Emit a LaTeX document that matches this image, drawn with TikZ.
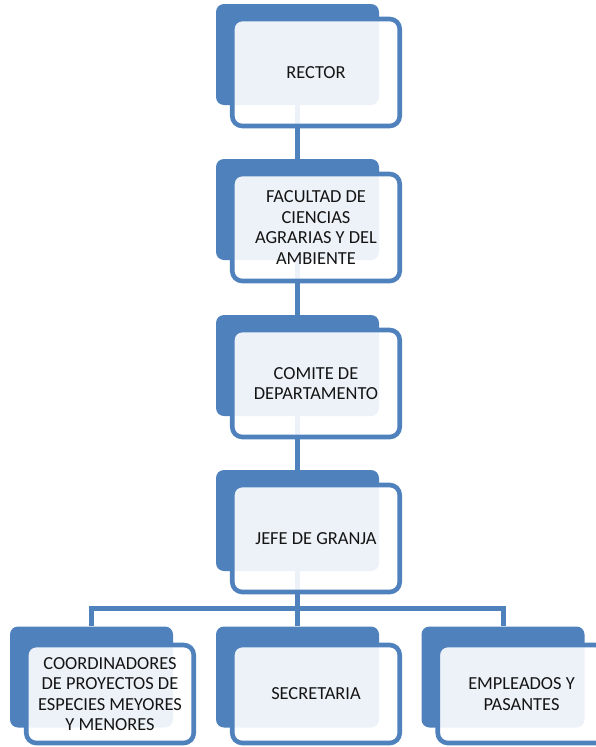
\documentclass[tikz,border=0pt]{standalone}
\usepackage{fontspec}
\setmainfont{Carlito}
\pgfdeclarelayer{background}
\pgfsetlayers{background,main}
\definecolor{accent}{HTML}{4F81BD}
\definecolor{txt}{HTML}{141414}
\tikzset{
  backbox/.style={fill=accent, rounded corners=8pt, minimum width=163pt, minimum height=101pt, inner sep=0pt},
  frontbox/.style={draw=accent, line width=4.6pt, fill=white, fill opacity=0.9, draw opacity=1, text opacity=1,
    rounded corners=10pt, minimum width=167.5pt, minimum height=107pt, inner sep=0pt,
    align=center, text=txt, font=\fontsize{18.4}{20.6}\selectfont},
  lowbox/.style={frontbox, minimum height=98pt},
  link/.style={draw=accent, line width=5pt}
}
\begin{document}
\begin{tikzpicture}[x=1pt,y=-1pt]
\useasboundingbox (0,0) rectangle (595,747);
\node[backbox] (b1) at (297.5,54.5) {};
\node[frontbox] (f1) at (316,72.5) {RECTOR};
\node[backbox] (b2) at (297.5,209.5) {};
\node[frontbox] (f2) at (316,227.5) {FACULTAD DE\\CIENCIAS\\AGRARIAS Y DEL\\AMBIENTE};
\node[backbox] (b3) at (297.5,365.5) {};
\node[frontbox] (f3) at (316,383.5) {COMITE DE\\DEPARTAMENTO};
\node[backbox] (b4) at (297.5,520.5) {};
\node[frontbox] (f4) at (316,538.5) {JEFE DE GRANJA};
\node[backbox] (b5) at (91.5,677) {};
\node[lowbox] (f5) at (110,694) {COORDINADORES\\DE PROYECTOS DE\\ESPECIES MEYORES\\Y MENORES};
\node[backbox] (b6) at (297.5,677) {};
\node[lowbox] (f6) at (316,694) {SECRETARIA};
\node[backbox] (b7) at (503,677) {};
\node[lowbox] (f7) at (521.5,694) {EMPLEADOS Y\\PASANTES};
\coordinate (bus) at (297.5,608);
\begin{pgfonlayer}{background}
\draw[link] (b1.south) -- (b2.north);
\draw[link] (b2.south) -- (b3.north);
\draw[link] (b3.south) -- (b4.north);
\draw[link] (b4.south) -- (b6.north);
\draw[link] (b5.north) |- (bus) -| (b7.north);
\end{pgfonlayer}
\end{tikzpicture}
\end{document}
